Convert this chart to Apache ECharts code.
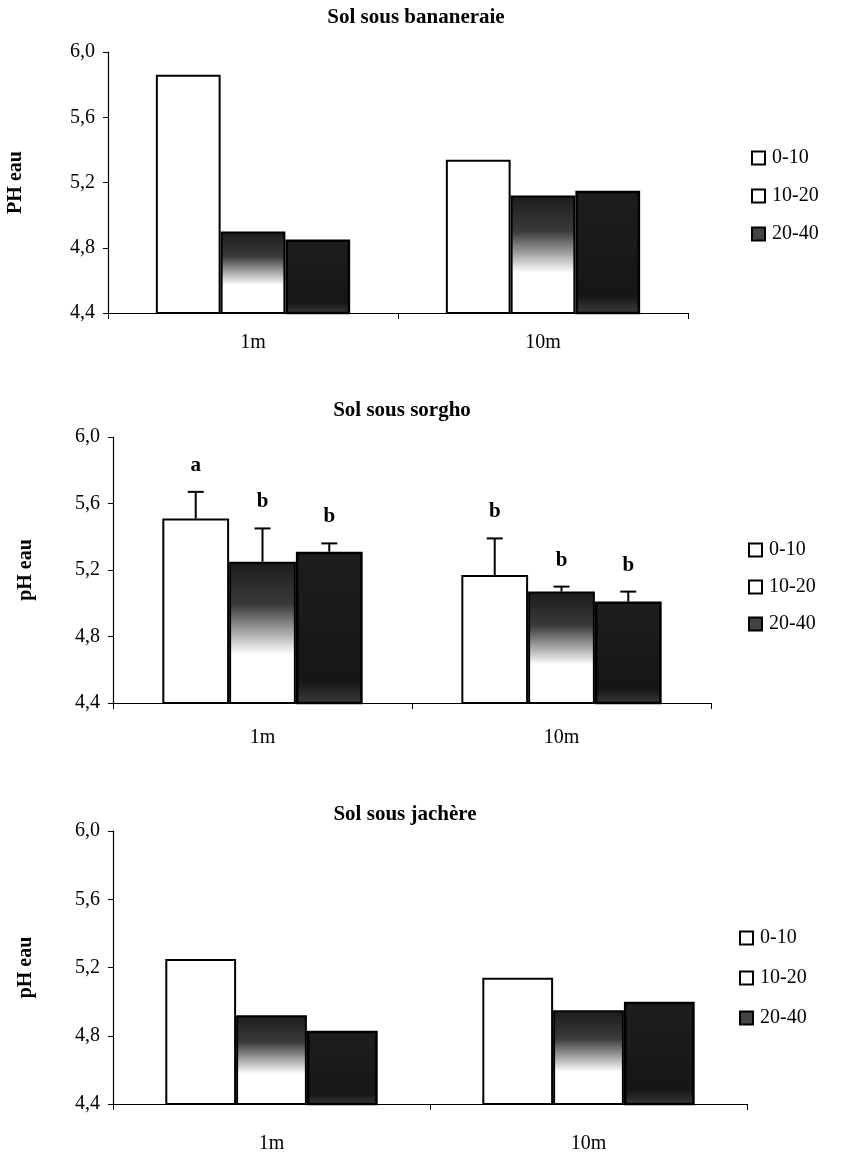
<!DOCTYPE html>
<html>
<head>
<meta charset="utf-8">
<script src="https://cdn.jsdelivr.net/npm/echarts@6/dist/echarts.min.js"></script>
<style>html,body{margin:0;padding:0;background:#fff;}#c{width:849px;height:1154px;}</style>
</head>
<body>
<div id="c"></div>
<script>
// ---- data ----
const categories = ['1m', '10m'];
const depthNames = ['0-10', '10-20', '20-40'];
const panelTitles = ['Sol sous bananeraie', 'Sol sous sorgho', 'Sol sous jachère'];
const yAxisNames = ['PH eau', 'pH eau', 'pH eau'];

const banana_0_10 = [5.86, 5.34];
const banana_10_20 = [4.90, 5.12];
const banana_20_40 = [4.85, 5.15];

const sorgho_0_10 = [5.51, 5.17];
const sorgho_10_20 = [5.25, 5.07];
const sorgho_20_40 = [5.31, 5.01];
const sorgho_err_0_10 = [0.16, 0.22];
const sorgho_err_10_20 = [0.20, 0.03];
const sorgho_err_20_40 = [0.05, 0.06];
const sorgho_letters_0_10 = ['a', 'b'];
const sorgho_letters_10_20 = ['b', 'b'];
const sorgho_letters_20_40 = ['b', 'b'];

const jachere_0_10 = [5.25, 5.14];
const jachere_10_20 = [4.92, 4.95];
const jachere_20_40 = [4.83, 5.00];

const yMin = 4.4, yMax = 6.0, yInterval = 0.4;

// ---- styles ----
const SERIF = '"Liberation Serif", "Times New Roman", serif';
const GAP = 0.33;
const fills = [
  '#ffffff',
  { type: 'linear', x: 0, y: 0, x2: 0, y2: 1, colorStops: [
    { offset: 0, color: '#1c1c1c' }, { offset: 0.3, color: '#3a3a3a' },
    { offset: 0.5, color: '#a8a8a8' }, { offset: 0.65, color: '#ffffff' }, { offset: 1, color: '#ffffff' }] },
  { type: 'linear', x: 0, y: 0, x2: 0, y2: 1, colorStops: [
    { offset: 0, color: '#1e1e1e' }, { offset: 0.85, color: '#161616' }, { offset: 1, color: '#3c3c3c' }] }
];

const panelData = [
  [banana_0_10, banana_10_20, banana_20_40],
  [sorgho_0_10, sorgho_10_20, sorgho_20_40],
  [jachere_0_10, jachere_10_20, jachere_20_40]
];
const sorghoErr = [sorgho_err_0_10, sorgho_err_10_20, sorgho_err_20_40];
const sorghoLetters = [sorgho_letters_0_10, sorgho_letters_10_20, sorgho_letters_20_40];

const grids = [
  { left: 108, top: 52, width: 580, height: 261, outerBoundsMode: 'none', containLabel: false },
  { left: 113, top: 437, width: 598, height: 266, outerBoundsMode: 'none', containLabel: false },
  { left: 113, top: 831, width: 634, height: 273, outerBoundsMode: 'none', containLabel: false }
];
const titleY = [18, 411, 815];
const titleX = [416, 402, 405];
const legendPos = [{ left: 746, top: 143 }, { left: 743, top: 535 }, { left: 734, top: 923 }];
const legendGaps = [18, 17, 20];
const nameGaps = [82, 77, 77];
const catMargins = [20, 25, 30];

const xAxes = [], yAxes = [], series = [], legends = [], graphics = [];
grids.forEach((g, p) => {
  xAxes.push({
    type: 'category', gridIndex: p, data: categories,
    axisLine: { lineStyle: { color: '#000', width: 1.2 } },
    axisTick: { show: true, length: 6, inside: false, lineStyle: { color: '#000' } },
    axisLabel: { color: '#000', fontFamily: SERIF, fontSize: 20, margin: catMargins[p] }
  });
  yAxes.push({
    type: 'value', gridIndex: p, min: yMin, max: yMax, interval: yInterval,
    name: yAxisNames[p], nameLocation: 'middle', nameRotate: 90, nameGap: nameGaps[p],
    nameTextStyle: { color: '#000', fontFamily: SERIF, fontSize: 20, fontWeight: 'bold' },
    axisLine: { show: true, lineStyle: { color: '#000', width: 1.2 } },
    axisTick: { show: true, length: 5, lineStyle: { color: '#000' } },
    splitLine: { show: false },
    axisLabel: { color: '#000', fontFamily: SERIF, fontSize: 20, margin: 13,
      formatter: v => v.toFixed(1).replace('.', ',') }
  });
  depthNames.forEach((name, i) => {
    series.push({
      type: 'bar', name: name, xAxisIndex: p, yAxisIndex: p,
      data: panelData[p][i],
      barGap: '0%', barCategoryGap: (GAP * 100) + '%',
      itemStyle: { color: fills[i], borderColor: '#000', borderWidth: i === 2 ? 2.5 : 2 },
      emphasis: { disabled: true }
    });
  });
  legends.push({
    orient: 'vertical', left: legendPos[p].left, top: legendPos[p].top,
    itemWidth: 13, itemHeight: 13, itemGap: legendGaps[p], icon: 'rect',
    textStyle: { color: '#000', fontFamily: SERIF, fontSize: 20, padding: [0, 0, 0, 2] },
    selectedMode: false,
    data: [
      { name: '0-10', itemStyle: { color: '#fff', borderColor: '#000', borderWidth: 2 } },
      { name: '10-20', itemStyle: { color: '#fff', borderColor: '#000', borderWidth: 2 } },
      { name: '20-40', itemStyle: { color: '#444', borderColor: '#000', borderWidth: 2 } }
    ]
  });
  graphics.push({
    type: 'text', x: titleX[p], y: titleY[p],
    style: { text: panelTitles[p], textAlign: 'center', textVerticalAlign: 'middle',
      font: 'bold 21px ' + SERIF, fill: '#000' }
  });
});

// error bars + letters for sorgho panel
depthNames.forEach((name, i) => {
  const data = categories.map((c, k) => [k, panelData[1][i][k],
    panelData[1][i][k] + sorghoErr[i][k], sorghoLetters[i][k]]);
  series.push({
    type: 'custom', xAxisIndex: 1, yAxisIndex: 1, silent: true, z: 5,
    data: data,
    renderItem: function (params, api) {
      const cat = api.value(0);
      const base = api.coord([cat, api.value(1)]);
      const top = api.coord([cat, api.value(2)]);
      const catW = api.size([1, 0])[0];
      const bw = catW * (1 - GAP) / 3;
      const x = base[0] + (i - 1) * bw;
      const cap = 8;
      return {
        type: 'group',
        children: [
          { type: 'line', shape: { x1: x, y1: base[1], x2: x, y2: top[1] }, style: { stroke: '#000', lineWidth: 2 } },
          { type: 'line', shape: { x1: x - cap, y1: top[1], x2: x + cap, y2: top[1] }, style: { stroke: '#000', lineWidth: 2 } },
          { type: 'text', x: x, y: top[1] - 16,
            style: { text: data[params.dataIndex][3], textAlign: 'center', textVerticalAlign: 'bottom',
              font: 'bold 21px ' + SERIF, fill: '#000' } }
        ]
      };
    }
  });
});

const chart = echarts.init(document.getElementById('c'), null, { renderer: 'canvas' });
chart.setOption({
  backgroundColor: '#fff',
  animation: false,
  grid: grids,
  xAxis: xAxes,
  yAxis: yAxes,
  legend: legends,
  series: series,
  graphic: graphics
});
</script>
</body>
</html>
